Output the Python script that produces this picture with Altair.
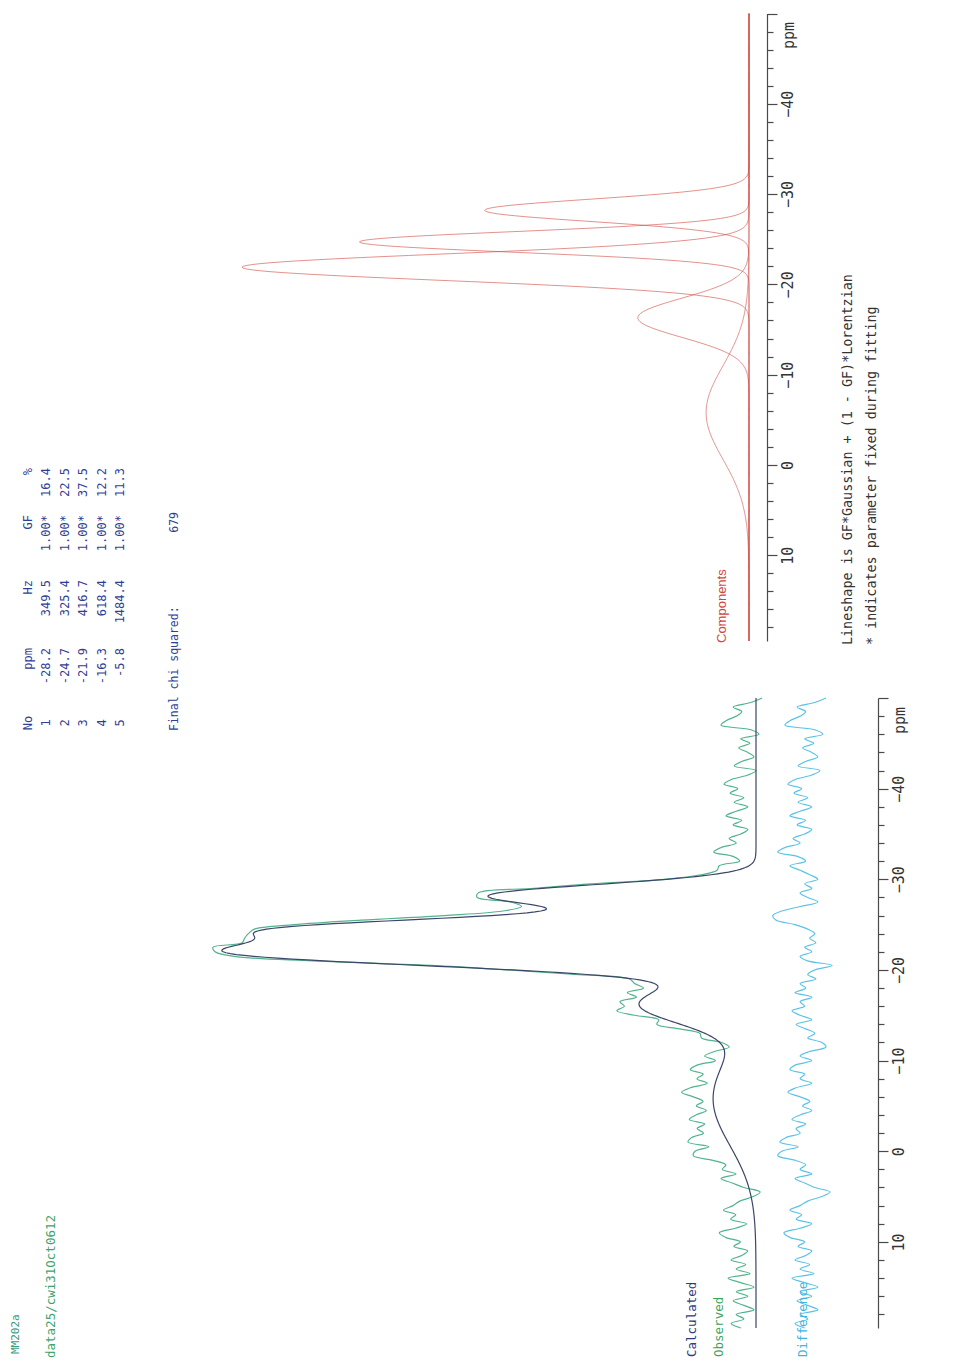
import numpy as np
import pandas as pd
import altair as alt

# ---- fit report -------------------------------------------------------------
SAMPLE = "MM202a"
DATA_PATH = "data25/cwi31Oct0612"

PEAK_NO = [1, 2, 3, 4, 5]
PEAK_PPM = [-28.2, -24.7, -21.9, -16.3, -5.8]
PEAK_HZ = [349.5, 325.4, 416.7, 618.4, 1484.4]
PEAK_GF = [1.00, 1.00, 1.00, 1.00, 1.00]
PEAK_PCT = [16.4, 22.5, 37.5, 12.2, 11.3]
CHI_SQUARED = 679

HZ_PER_PPM = 121.5          # spectrometer frequency (Hz per ppm)
PPM_MIN, PPM_MAX = -50.0, 19.5

# residual (observed - calculated) every 0.5 ppm from -50 to 19.5,
# in units where the tallest component is 100
RESID_START, RESID_STEP = -50.0, 0.5
RESID = [
    -1.2, 1.0, 4.5, 2.8, 3.9, 5.9, 6.9, 1.0, -0.6, 3.0,   # -50.0 .. -45.5
    1.2, 3.4, 1.6, 0.4, 2.8, 4.3, 0.0, 1.6, 4.9, 6.3,     # -45.0 .. -40.5
    3.6, 5.1, 2.4, 4.3, 1.6, 3.9, 5.9, 2.8, 4.5, 1.6,     # -40.0 .. -35.5
    3.0, 5.3, 3.9, 6.9, 8.3, 4.3, 2.8, 5.9, 3.9, 2.0,     # -35.0 .. -30.5
    0.4, 3.0, 1.6, 3.9, 2.4, 0.4, 3.9, 7.5, 9.3, 8.7,     # -30.0 .. -25.5
    4.9, 2.4, 1.0, 2.0, 0.8, 3.0, 1.6, 3.9, 2.4, -2.4,    # -25.0 .. -20.5
    1.0, 2.4, 0.8, 3.9, 2.8, 4.9, 1.6, 3.9, 3.0, 5.5,     # -20.0 .. -15.5
    3.9, 1.6, 4.7, 2.8, 1.0, 2.4, -0.4, -1.2, 2.0, 3.9,   # -15.0 .. -10.5
    1.6, 4.9, 5.9, 3.0, 3.9, 1.6, 4.7, 6.3, 3.9, 2.0,     # -10.0 .. -5.5
    3.4, 1.6, 3.9, 5.5, 2.8, 4.7, 3.9, 6.7, 7.9, 4.3,     # -5.0 .. -0.5
    7.5, 8.3, 4.9, 2.8, 3.9, 1.6, 4.9, 3.0, 1.0, -2.0,    # 0.0 .. 4.5
    -0.4, 2.4, 3.9, 5.9, 3.6, 4.7, 1.6, 3.9, 7.1, 5.9,    # 5.0 .. 9.5
    3.0, 4.3, 1.6, 2.8, 4.9, 2.0, 3.9, 1.2, 5.5, 3.0,     # 10.0 .. 14.5
    0.4, 3.9, 1.6, 4.5, 2.4, 0.4, 3.9, 2.4, 4.9, 3.0,     # 15.0 .. 19.5
]
RESID_PPM = [RESID_START + RESID_STEP * i for i in range(len(RESID))]

# ---- lineshape: GF*Gaussian + (1 - GF)*Lorentzian -----------------------------
def lineshape(ppm, centre, fwhm, gf):
    sigma = fwhm / (2.0 * np.sqrt(2.0 * np.log(2.0)))
    gauss = np.exp(-0.5 * ((ppm - centre) / sigma) ** 2)
    lorentz = 1.0 / (1.0 + ((ppm - centre) / (fwhm / 2.0)) ** 2)
    return gf * gauss + (1.0 - gf) * lorentz


fwhm_ppm = [hz / HZ_PER_PPM for hz in PEAK_HZ]
unit_area = [w * (gf * 1.0645 + (1 - gf) * np.pi / 2) for w, gf in zip(fwhm_ppm, PEAK_GF)]
raw_height = [p / a for p, a in zip(PEAK_PCT, unit_area)]
height = [100.0 * h / max(raw_height) for h in raw_height]


def calculated(ppm):
    ppm = np.asarray(ppm, dtype=float)
    total = np.zeros_like(ppm)
    for c, w, gf, h in zip(PEAK_PPM, fwhm_ppm, PEAK_GF, height):
        total += h * lineshape(ppm, c, w, gf)
    return total


grid = np.round(np.arange(PPM_MIN, PPM_MAX + 0.001, 0.1), 2)

comp_rows = []
for n, c, w, gf, h in zip(PEAK_NO, PEAK_PPM, fwhm_ppm, PEAK_GF, height):
    for p, v in zip(grid, h * lineshape(grid, c, w, gf)):
        comp_rows.append({"peak": n, "ppm": float(p), "intensity": float(v)})
comp_df = pd.DataFrame(comp_rows)

calc_df = pd.DataFrame({"ppm": grid, "intensity": calculated(grid)})
obs_df = pd.DataFrame({"ppm": RESID_PPM,
                       "intensity": calculated(RESID_PPM) + np.array(RESID)})
DIFF_OFFSET = -12.6          # the difference trace is drawn beside the fit
diff_df = pd.DataFrame({"ppm": RESID_PPM, "intensity": np.array(RESID) + DIFF_OFFSET})

# ---- styling -----------------------------------------------------------------
MONO = "DejaVu Sans Mono"
SANS = "Liberation Sans"
NAVY = "#2f3f96"
RED = "#d2463f"
CALC_C = "#3b4668"
OBS_C = "#52b48e"
DIFF_C = "#5cc3e6"
AXIS_C = "#4a4a4a"


def ppm_axis(offset, title_y):
    return alt.Axis(
        orient="right", offset=offset, grid=False,
        values=list(range(-50, 20, 2)),
        tickSize={"expr": "datum.value % 10 == 0 ? 10 : 6"},
        tickColor=AXIS_C, tickWidth=1.2, domainColor=AXIS_C, domainWidth=1.2,
        labelExpr="(datum.value % 10 == 0 && datum.value > -45) ? datum.label : ''",
        labelAngle=270, labelAlign="center", labelBaseline="middle",
        labelPadding=10, labelFont=MONO, labelFontSize=15, labelColor="#333333",
        labelOverlap=False, labelFlush=False, format="d",
        title="ppm", titleAngle=270, titleX=21, titleY=title_y,
        titleAlign="center", titleBaseline="middle", titleFont=MONO,
        titleFontSize=15, titleFontWeight="normal", titleColor="#333333",
    )


# ---- components panel ------------------------------------------------------
top_y = alt.Y("ppm:Q", scale=alt.Scale(domain=[PPM_MIN, PPM_MAX], range=[13.5, 641],
                                       nice=False, zero=False),
              axis=ppm_axis(-193, 35))
top_x = alt.X("intensity:Q", scale=alt.Scale(domain=[0, 100], range=[749, 242],
                                             nice=False, zero=False), axis=None)

components = alt.Chart(comp_df).mark_line(color=RED, strokeWidth=0.8, opacity=0.75).encode(
    x=top_x, y=top_y, detail="peak:N", order="ppm:Q")

# ---- observed / calculated / difference panel ---------------------------------
bot_y = alt.Y("ppm:Q", scale=alt.Scale(domain=[PPM_MIN, PPM_MAX], range=[698, 1328],
                                       nice=False, zero=False),
              axis=ppm_axis(-82, 720))
bot_x = alt.X("intensity:Q", scale=alt.Scale(domain=[0, 100], range=[756, 249],
                                             nice=False, zero=False), axis=None)

observed = alt.Chart(obs_df).mark_line(color=OBS_C, strokeWidth=1.2,
                                       interpolate="catmull-rom").encode(
    x=bot_x, y=bot_y, order="ppm:Q")
calc_line = alt.Chart(calc_df).mark_line(color=CALC_C, strokeWidth=1.2).encode(
    x=bot_x, y=bot_y, order="ppm:Q")
diff_line = alt.Chart(diff_df).mark_line(color=DIFF_C, strokeWidth=1.2,
                                         interpolate="catmull-rom").encode(
    x=bot_x, y=bot_y, order="ppm:Q")

fit_panel = alt.layer(observed, calc_line, diff_line)

# ---- results table -------------------------------------------------------------
row_x = alt.X("row:Q", scale=alt.Scale(domain=[0, 5], range=[28, 120], nice=False,
                                       zero=False), axis=None)

table_cols = [
    ("No", [str(n) for n in PEAK_NO], 723, "center"),
    ("ppm", [f"{v:.1f}" for v in PEAK_PPM], 648, "right"),
    ("Hz", [f"{v:.1f}" for v in PEAK_HZ], 580, "right"),
    ("GF", [f"{v:.2f}*" for v in PEAK_GF], 515, "right"),
    ("%", [f"{v:.1f}" for v in PEAK_PCT], 468, "right"),
]
table_layers = []
for head, vals, ypos, al in table_cols:
    df = pd.DataFrame({"row": list(range(6)), "label": [head] + vals})
    table_layers.append(
        alt.Chart(df).mark_text(angle=270, align=al, baseline="middle", font=MONO,
                                fontSize=12, color=NAVY).encode(
            x=row_x, y=alt.value(ypos), text="label:N"))
table = alt.layer(*table_layers)


def label(text, x, y, color, size, align="left", font=MONO, weight="normal"):
    return alt.Chart(pd.DataFrame({"t": [text]})).mark_text(
        angle=270, align=align, baseline="middle", font=font, fontSize=size,
        color=color, fontWeight=weight).encode(
        x=alt.value(x), y=alt.value(y), text="t:N")


texts = [
    label("Final chi squared:", 175, 731, NAVY, 11.5),
    label(str(CHI_SQUARED), 175, 512, NAVY, 11.5, align="right"),
    label(SAMPLE, 16, 1354, "#3d9b87", 11),
    label(DATA_PATH, 51, 1358, "#3fa36b", 12.5),
    label("Components", 722, 643, RED, 13, font=SANS),
    label("Lineshape is GF*Gaussian + (1 - GF)*Lorentzian", 848, 645, "#333333", 13.4),
    label("* indicates parameter fixed during fitting", 872, 645, "#333333", 13.4),
    label("Calculated", 692, 1357, "#2e3b78", 12.5),
    label("Observed", 719, 1357, "#3aa55a", 12.5),
    label("Difference", 803, 1357, "#3fb4e0", 12.5),
]

chart = alt.layer(components, fit_panel, table, *texts).resolve_scale(
    x="independent", y="independent"
).properties(
    width=960, height=1366, padding=0,
    autosize=alt.AutoSizeParams(type="none"),
    background="white",
).configure_view(stroke=None)

chart.save("out.html", embed_options={"renderer": "svg", "actions": False})
